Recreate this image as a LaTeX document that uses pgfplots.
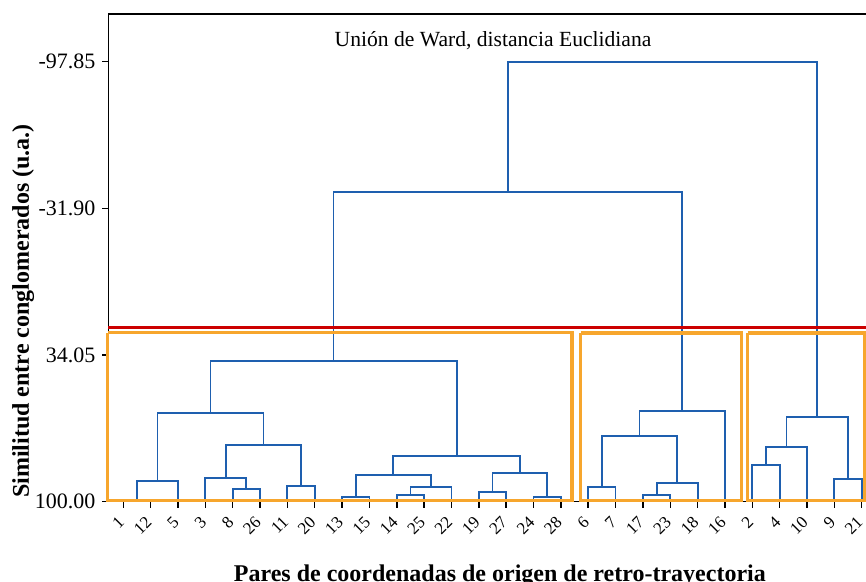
\documentclass[border=0pt]{standalone}
\usepackage{pgfplots}
\pgfplotsset{compat=1.18}
\usepackage{fontspec}
\setmainfont{Liberation Serif}
\definecolor{dblue}{RGB}{30,95,175}
\definecolor{dred}{RGB}{204,0,0}
\definecolor{dorange}{RGB}{247,166,45}
% bracket: left x, left child height, right x, right child height, merge height
\newcommand{\br}[5]{\addplot[dblue, line width=0.9pt, line join=miter] coordinates {(#1,#2) (#1,#5) (#3,#5) (#3,#4)};}
\begin{document}
\begin{tikzpicture}
\begin{axis}[
  name=ax,
  scale only axis,
  width=384pt, height=243.85pt,
  xmin=0.46, xmax=28.54,
  ymin=-119.3, ymax=100,
  y dir=reverse,
  clip=false,
  axis line style={black, line width=0.75pt},
  xtick={1,...,28},
  xticklabels={1,12,5,3,8,26,11,20,13,15,14,25,22,19,27,24,28,6,7,17,23,18,16,2,4,10,9,21},
  ytick={-97.85,-31.90,34.05,100},
  yticklabels={-97.85,-31.90,34.05,100.00},
  tick align=outside,
  xtick pos=bottom, ytick pos=left,
  major tick length=3pt,
  tick style={black, line width=0.75pt},
  xticklabel style={rotate=45, anchor=east, font=\fontsize{8.5}{10}\selectfont, inner sep=1pt, xshift=-3.6pt, yshift=-3.4pt},
  yticklabel style={font=\fontsize{11}{13}\selectfont},
]
% dendrogram (similarity values)
\br{1.5}{100}{3}{100}{90.7}
\br{5}{100}{6}{100}{94.3}
\br{4}{100}{5.5}{94.3}{89.3}
\br{7}{100}{8}{100}{92.8}
\br{4.75}{89.3}{7.5}{92.8}{74.5}
\br{2.25}{90.7}{6.125}{74.5}{60.0}
\br{9}{100}{10}{100}{97.75}
\br{11}{100}{12}{100}{97.0}
\br{11.5}{97.0}{13}{100}{93.5}
\br{9.5}{97.75}{12.25}{93.5}{88.0}
\br{14}{100}{15}{100}{95.5}
\br{16}{100}{17}{100}{97.75}
\br{14.5}{95.5}{16.5}{97.75}{87.2}
\br{10.875}{88.0}{15.5}{87.2}{79.4}
\br{4.1875}{60.0}{13.1875}{79.4}{36.7}
\br{18}{100}{19}{100}{93.5}
\br{20}{100}{21}{100}{96.85}
\br{20.5}{96.85}{22}{100}{91.5}
\br{18.5}{93.5}{21.25}{91.5}{70.5}
\br{19.875}{70.5}{23}{100}{59.2}
\br{8.6875}{36.7}{21.4375}{59.2}{-39.1}
\br{24}{100}{25}{100}{83.5}
\br{24.5}{83.5}{26}{100}{75.3}
\br{27}{100}{28}{100}{89.9}
\br{25.25}{75.3}{27.5}{89.9}{62.0}
\br{15.0625}{-39.1}{26.375}{62.0}{-97.85}
% cluster boxes
\addplot[dorange, line width=1.65pt, line join=miter] coordinates {(0.43,24.0) (17.41,24.0) (17.41,99.6) (0.43,99.6) (0.43,24.0)};
\addplot[dorange, line width=1.65pt, line join=miter] coordinates {(17.72,24.2) (23.61,24.2) (23.61,99.6) (17.72,99.6) (17.72,24.2)};
\addplot[dorange, line width=1.65pt, line join=miter] coordinates {(23.83,24.1) (28.09,24.1) (28.09,99.6) (23.83,99.6) (23.83,24.1)};
% cut line
\addplot[dred, line width=1.35pt] coordinates {(0.46,21.6) (28.54,21.6)};
% texts
\node[font=\fontsize{10.8}{12}\selectfont, anchor=base] at (axis cs:14.52,-104.9) {Unión de Ward, distancia Euclidiana};
\node[rotate=90, anchor=base, font=\bfseries\fontsize{12}{14}\selectfont] at (axis cs:-2.448,14.25) {Similitud entre conglomerados (u.a.)};
\node[anchor=base, font=\bfseries\fontsize{12}{14}\selectfont] at (axis cs:14.77,135.66) {Pares de coordenadas de origen de retro-trayectoria};
\end{axis}
\pgfresetboundingbox
\path ([shift={(-54.25pt,-40.15pt)}]ax.south west) rectangle ([shift={(378.75pt,250.85pt)}]ax.south west);
\end{tikzpicture}
\end{document}
